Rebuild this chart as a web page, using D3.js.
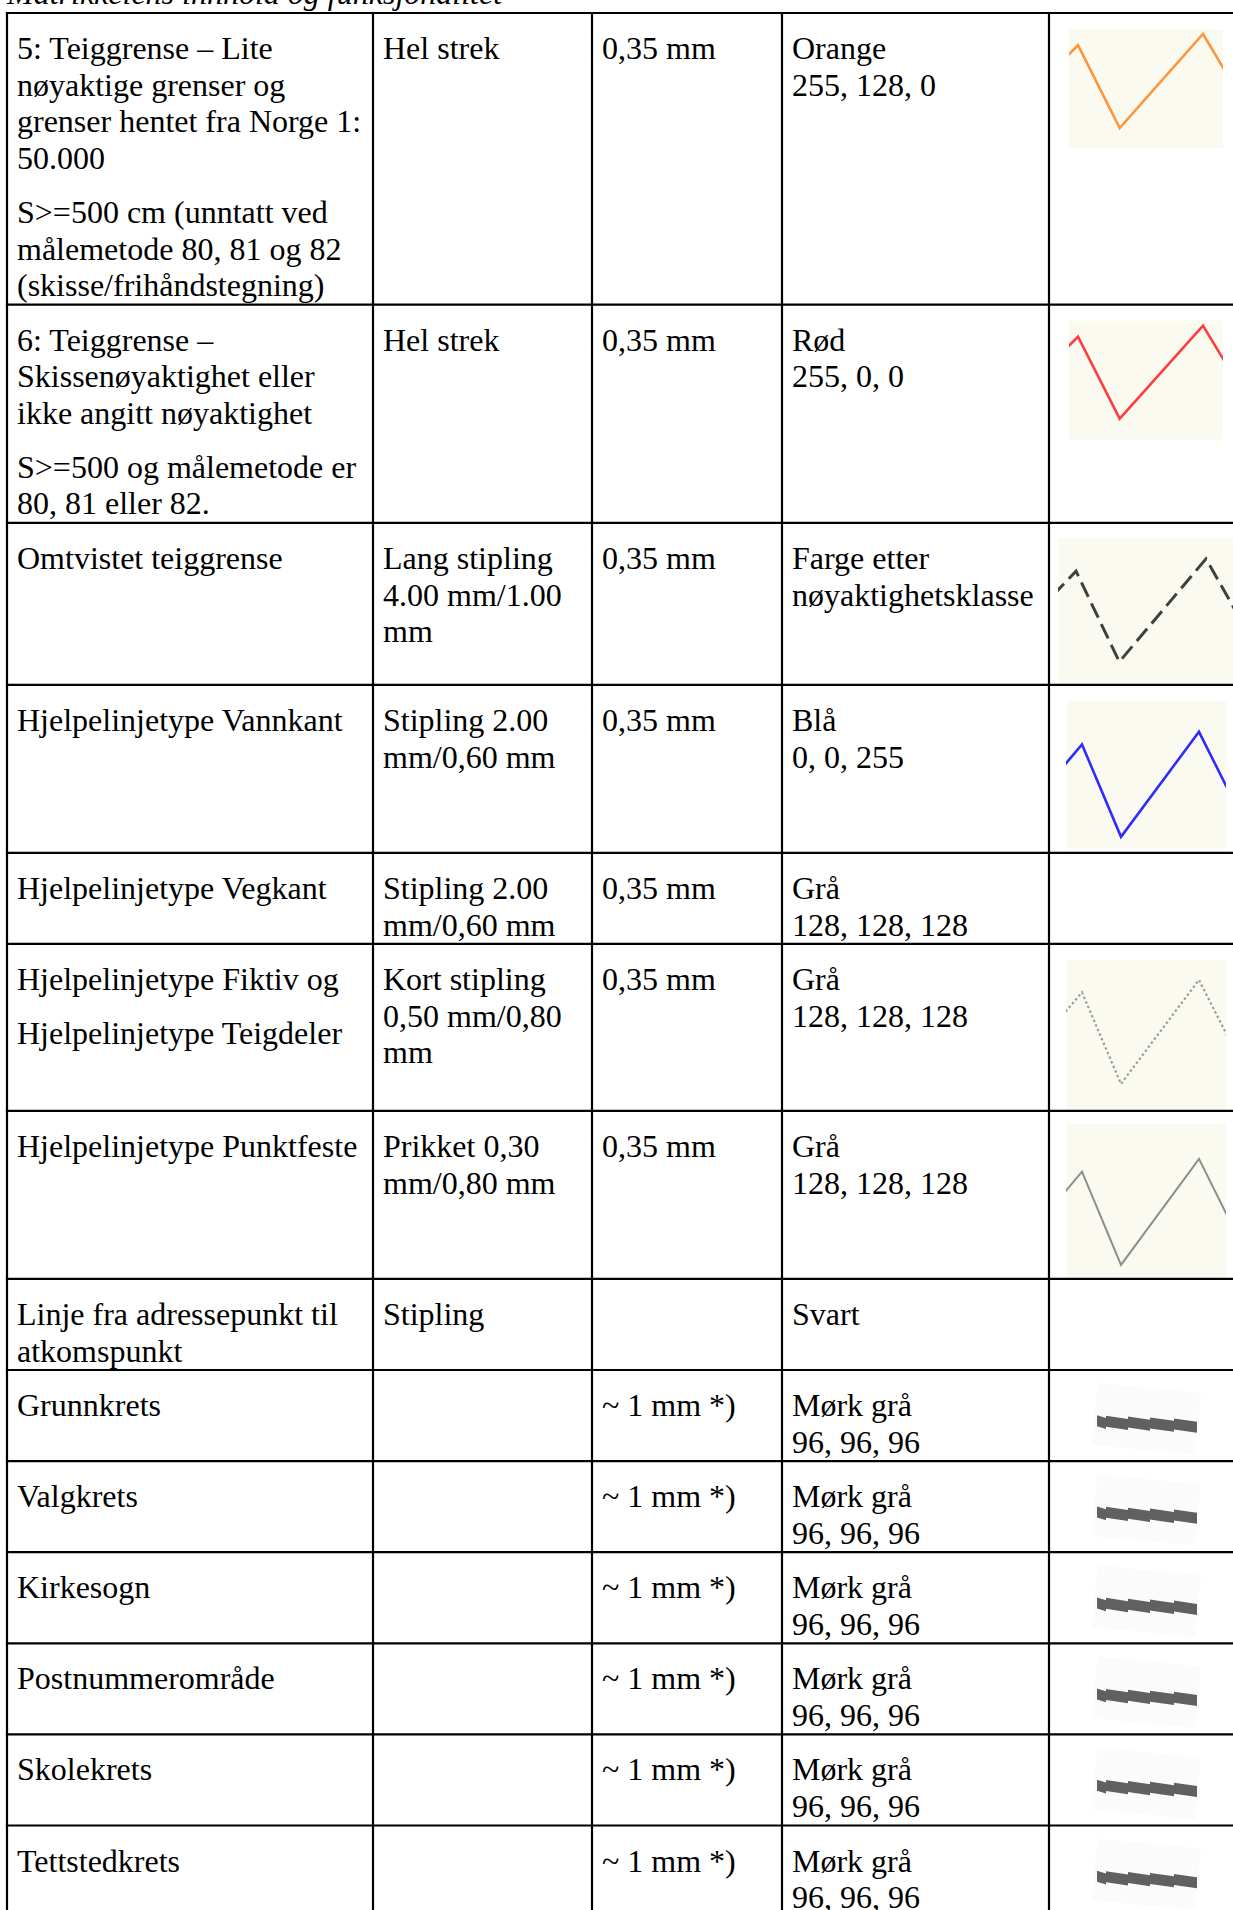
<!DOCTYPE html>
<html>
<head>
<meta charset="utf-8">
<script src="https://cdn.jsdelivr.net/npm/d3@7"></script>
<style>
body { margin: 0; background: #fff; }
text { font-family: "Liberation Serif", "Times New Roman", serif; fill: #000; }
</style>
</head>
<body>
<script>
// ---- table contents ----
var title = "Matrikkelens innhold og funksjonalitet";

// first column: each entry is a list of paragraphs, "\n" = line break
var descriptions = [
  ["5: Teiggrense – Lite\nnøyaktige grenser og\ngrenser hentet fra Norge 1:\n50.000", "S>=500 cm (unntatt ved\nmålemetode 80, 81 og 82\n(skisse/frihåndstegning)"],
  ["6: Teiggrense –\nSkissenøyaktighet eller\nikke angitt nøyaktighet", "S>=500 og målemetode er\n80, 81 eller 82."],
  ["Omtvistet teiggrense"],
  ["Hjelpelinjetype Vannkant"],
  ["Hjelpelinjetype Vegkant"],
  ["Hjelpelinjetype Fiktiv og", "Hjelpelinjetype Teigdeler"],
  ["Hjelpelinjetype Punktfeste"],
  ["Linje fra adressepunkt til\natkomspunkt"],
  ["Grunnkrets"],
  ["Valgkrets"],
  ["Kirkesogn"],
  ["Postnummerområde"],
  ["Skolekrets"],
  ["Tettstedkrets"]
];

var lineTypes = [
  "Hel strek", "Hel strek", "Lang stipling\n4.00 mm/1.00\nmm", "Stipling 2.00\nmm/0,60 mm",
  "Stipling 2.00\nmm/0,60 mm", "Kort stipling\n0,50 mm/0,80\nmm", "Prikket 0,30\nmm/0,80 mm",
  "Stipling", "", "", "", "", "", ""
];

var lineWidths = [
  "0,35 mm", "0,35 mm", "0,35 mm", "0,35 mm", "0,35 mm", "0,35 mm", "0,35 mm",
  "", "~ 1 mm *)", "~ 1 mm *)", "~ 1 mm *)", "~ 1 mm *)", "~ 1 mm *)", "~ 1 mm *)"
];

var colourNames = [
  "Orange\n255, 128, 0", "Rød\n255, 0, 0", "Farge etter\nnøyaktighetsklasse", "Blå\n0, 0, 255",
  "Grå\n128, 128, 128", "Grå\n128, 128, 128", "Grå\n128, 128, 128", "Svart",
  "Mørk grå\n96, 96, 96", "Mørk grå\n96, 96, 96", "Mørk grå\n96, 96, 96",
  "Mørk grå\n96, 96, 96", "Mørk grå\n96, 96, 96", "Mørk grå\n96, 96, 96"
];

var symbols = ["orange", "red", "dashed", "blue", null, "dotted", "gray", null,
  "bar", "bar", "bar", "bar", "bar", "bar"];

// sample zigzag drawn in the symbol pictures (peak A, trough B, peak C ...)
var zigzagX = [-2, 0, 1, 3, 4.35];
var zigzagY = [1, 0.12, 1, 0, 1];

// split points of the thick boundary sample
var barBreaks = [0, 0.09, 0.31, 0.53, 0.77, 1];

// ---- layout ----
var width = 1233, height = 1910;
var colEdges = [7, 373, 592, 782, 1049];
var tableTop = 13;
var lineH = 36.7, paraGap = 17, firstBase = 46, bottomPad = 8.4, padX = 10;

var symbolStyle = {
  orange: { stroke: "#ff9438", w: 2.6, dash: null, box: [20, 16, 154, 119], xA: 29, xC: 154, yC: 21, yB: 115, minRow: 0 },
  red:    { stroke: "#ff3d3d", w: 2.6, dash: null, box: [20, 16, 154, 119], xA: 29, xC: 154, yC: 21, yB: 114, minRow: 0 },
  dashed: { stroke: "#404040", w: 3, dash: "16,7", box: [9, 15, 190, 146], xA: 27, xC: 157, yC: 36, yB: 139, minRow: 162 },
  blue:   { stroke: "#2d2dff", w: 2.6, dash: null, box: [17, 16, 160, 148], xA: 33, xC: 150, yC: 47, yB: 152, minRow: 168 },
  dotted: { stroke: "#9c9c9c", w: 2.2, dash: "2.4,2.6", box: [17, 16, 160, 149], xA: 33, xC: 150, yC: 36, yB: 140, minRow: 167 },
  gray:   { stroke: "#8e8e8e", w: 2, dash: null, box: [17, 13, 160, 153], xA: 33, xC: 150, yC: 48, yB: 154, minRow: 168 },
  bar:    { fill: "#606060", x0: 48, x1: 148, yc: 52, drop: 4, thick: 11, step: 2.4, minRow: 0 }
};

var svg = d3.select("body").append("svg")
  .attr("width", width)
  .attr("height", height);

var defs = svg.append("defs");

// title (cut off at the top of the picture)
svg.append("text")
  .attr("x", 7)
  .attr("y", 4)
  .attr("font-size", 32)
  .attr("font-style", "italic")
  .text(title);

function cellParas(i) {
  return [descriptions[i], [lineTypes[i]], [lineWidths[i]], [colourNames[i]]];
}

function textHeight(paras) {
  var n = 0;
  paras.forEach(function (p) { n += p.split("\n").length; });
  return firstBase + (n - 1) * lineH + (paras.length - 1) * paraGap + bottomPad;
}

// row tops
var rowTops = [];
var yPos = tableTop;
descriptions.forEach(function (d, i) {
  rowTops.push(yPos);
  var h = d3.max(cellParas(i), textHeight);
  if (symbols[i]) h = Math.max(h, symbolStyle[symbols[i]].minRow);
  yPos += h;
});
rowTops.push(yPos);

var zig = d3.range(zigzagX.length).map(function (k) { return [zigzagX[k], zigzagY[k]]; });

function drawText(g, i, rowTop) {
  cellParas(i).forEach(function (paras, c) {
    var lineNo = 0;
    paras.forEach(function (p, pi) {
      p.split("\n").forEach(function (s) {
        if (s === "") return;
        g.append("text")
          .attr("x", colEdges[c] + padX)
          .attr("y", rowTop + firstBase + lineNo * lineH + pi * paraGap)
          .attr("font-size", 32)
          .text(s);
        lineNo++;
      });
    });
  });
}

function drawBar(g, st, left, rowTop) {
  var xb = d3.scaleLinear().domain([0, 1]).range([left + st.x0, left + st.x1]);
  var yb = d3.scaleLinear().domain([0, 1])
    .range([rowTop + st.yc - st.thick / 2, rowTop + st.yc - st.thick / 2 + st.drop]);
  g.append("rect")
    .attr("x", left + st.x0 - 3)
    .attr("y", rowTop + 18)
    .attr("width", 104)
    .attr("height", 62)
    .attr("fill", "#fbfbfb")
    .attr("transform", "rotate(5.5," + (left + st.x0 + 50) + "," + (rowTop + st.yc) + ")");
  for (var k = 0; k < barBreaks.length - 1; k++) {
    var u0 = barBreaks[k], u1 = barBreaks[k + 1];
    var pts = [
      [xb(u0), yb(u0) - st.step / 2],
      [xb(u1), yb(u1) + st.step / 2],
      [xb(u1), yb(u1) + st.step / 2 + st.thick],
      [xb(u0), yb(u0) - st.step / 2 + st.thick]
    ];
    g.append("polygon")
      .attr("points", pts.map(function (p) { return p.join(","); }).join(" "))
      .attr("fill", st.fill);
  }
}

function drawZigzag(g, st, left, rowTop, i) {
  var bx = left + st.box[0], by = rowTop + st.box[1];
  var clipId = "clip" + i;
  defs.append("clipPath").attr("id", clipId)
    .append("rect")
    .attr("x", bx).attr("y", by)
    .attr("width", st.box[2]).attr("height", st.box[3]);

  g.append("rect")
    .attr("x", bx).attr("y", by)
    .attr("width", st.box[2]).attr("height", st.box[3])
    .attr("fill", "#fafaf1");

  var sx = d3.scaleLinear().domain([0, 3]).range([left + st.xA, left + st.xC]);
  var sy = d3.scaleLinear().domain([0, 1]).range([rowTop + st.yC, rowTop + st.yB]);
  var zigLine = d3.line().x(function (d) { return sx(d[0]); }).y(function (d) { return sy(d[1]); });

  g.append("path")
    .attr("d", zigLine(zig))
    .attr("clip-path", "url(#" + clipId + ")")
    .attr("fill", "none")
    .attr("stroke", st.stroke)
    .attr("stroke-width", st.w)
    .attr("stroke-linejoin", "miter")
    .attr("stroke-dasharray", st.dash);
}

descriptions.forEach(function (d, i) {
  var rowTop = rowTops[i];
  var g = svg.append("g");
  drawText(g, i, rowTop);
  var kind = symbols[i];
  if (!kind) return;
  if (kind === "bar") drawBar(g, symbolStyle[kind], colEdges[4], rowTop);
  else drawZigzag(g, symbolStyle[kind], colEdges[4], rowTop, i);
});

// grid lines
var grid = svg.append("g").attr("stroke", "#000").attr("stroke-width", 2.2);
grid.selectAll("line.h")
  .data(rowTops.slice(0, rowTops.length - 1))
  .enter().append("line")
  .attr("x1", colEdges[0] - 1.1).attr("x2", width)
  .attr("y1", function (d) { return d; }).attr("y2", function (d) { return d; });
grid.selectAll("line.v")
  .data(colEdges)
  .enter().append("line")
  .attr("x1", function (d) { return d; }).attr("x2", function (d) { return d; })
  .attr("y1", tableTop - 1.1).attr("y2", height);
</script>
</body>
</html>
